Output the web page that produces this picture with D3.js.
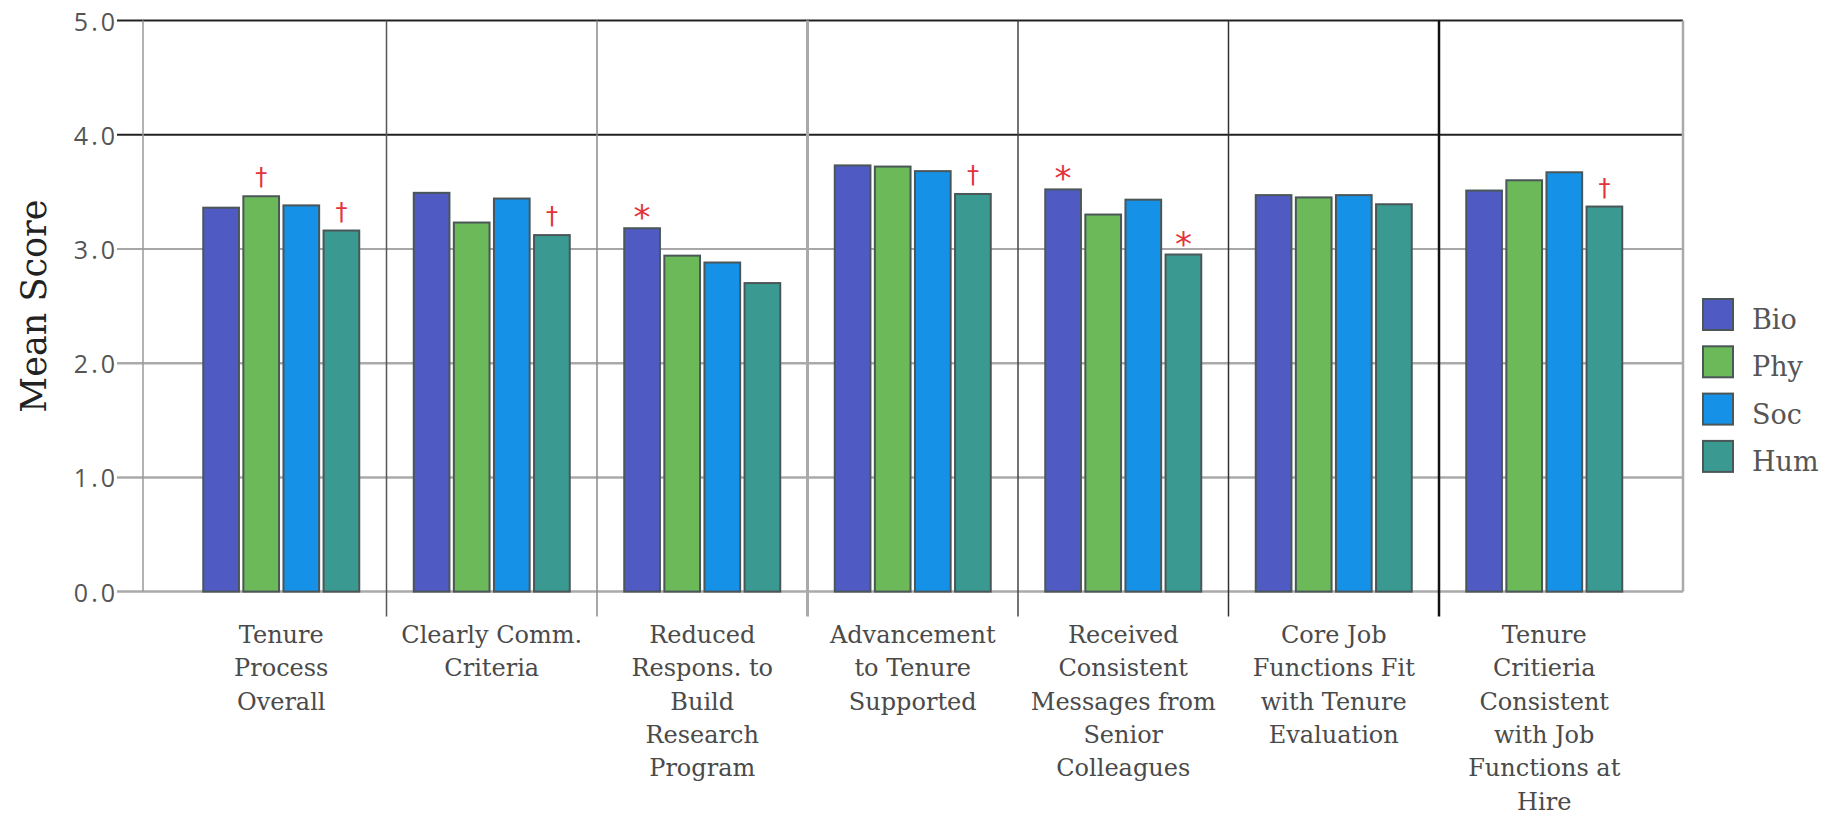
<!DOCTYPE html>
<html>
<head>
<meta charset="utf-8">
<script src="https://cdn.jsdelivr.net/npm/d3@7"></script>
<style>
  html, body { margin: 0; padding: 0; background: #fff; }
  svg { display: block; }
</style>
</head>
<body>
<svg id="chart" width="1837" height="815"></svg>
<script>
// Survey items (x categories), each split into lines for the axis labels
const categories = [
  "Tenure Process Overall",
  "Clearly Comm. Criteria",
  "Reduced Respons. to Build Research Program",
  "Advancement to Tenure Supported",
  "Received Consistent Messages from Senior Colleagues",
  "Core Job Functions Fit with Tenure Evaluation",
  "Tenure Critieria Consistent with Job Functions at Hire"
];
const categoryLines = [
  ["Tenure", "Process", "Overall"],
  ["Clearly Comm.", "Criteria"],
  ["Reduced", "Respons. to", "Build", "Research", "Program"],
  ["Advancement", "to Tenure", "Supported"],
  ["Received", "Consistent", "Messages from", "Senior", "Colleagues"],
  ["Core Job", "Functions Fit", "with Tenure", "Evaluation"],
  ["Tenure", "Critieria", "Consistent", "with Job", "Functions at", "Hire"]
];

// Disciplines and their mean scores per item
const series = ["Bio", "Phy", "Soc", "Hum"];
const bio = [3.37, 3.50, 3.19, 3.74, 3.53, 3.48, 3.52];
const phy = [3.47, 3.24, 2.95, 3.73, 3.31, 3.46, 3.61];
const soc = [3.39, 3.45, 2.89, 3.69, 3.44, 3.48, 3.68];
const hum = [3.17, 3.13, 2.71, 3.49, 2.96, 3.40, 3.38];

// Significance markers: [item index, discipline, symbol]
const sigMarks = [
  [0, "Phy", "\u2020"],
  [0, "Hum", "\u2020"],
  [1, "Hum", "\u2020"],
  [2, "Bio", "*"],
  [3, "Hum", "\u2020"],
  [4, "Bio", "*"],
  [4, "Hum", "*"],
  [6, "Hum", "\u2020"]
];

// Y axis ticks
const yTicks = [0, 1, 2, 3, 4, 5];

// ---- styling ----
const colors = { Bio: "#4f5bc3", Phy: "#6cb95a", Soc: "#1592e8", Hum: "#3a9a92" };
const gridStyle = {
  5: { stroke: "#222", width: 2 },
  4: { stroke: "#222", width: 2 },
  3: { stroke: "#8a8a8a", width: 1.6 },
  2: { stroke: "#aaa", width: 2.5 },
  1: { stroke: "#aaa", width: 2.5 },
  0: { stroke: "#aaa", width: 2.5 }
};
const dividerStyle = [
  { stroke: "#555", width: 1.5 },
  { stroke: "#8a8a8a", width: 1.5 },
  { stroke: "#aaa", width: 3 },
  { stroke: "#444", width: 1.5 },
  { stroke: "#333", width: 1.5 },
  { stroke: "#111", width: 2.5 }
];

const valuesBySeries = { Bio: bio, Phy: phy, Soc: soc, Hum: hum };

const svg = d3.select("#chart");

const frameLeft = 143, frameRight = 1683;
const y = d3.scaleLinear().domain([0, 5]).range([591.6, 20.5]);
const x = d3.scaleBand().domain(categories).range([176, 1649.5]).padding(0);
const groupWidth = 158;
const xInner = d3.scaleBand().domain(series).range([0, groupWidth]).paddingInner(0.06);
const groupCenter = c => x(c) + x.bandwidth() / 2;

// Horizontal gridlines with tick extensions
svg.append("g").selectAll("line")
  .data(yTicks)
  .join("line")
  .attr("x1", 117).attr("x2", frameRight)
  .attr("y1", d => y(d)).attr("y2", d => y(d))
  .attr("stroke", d => gridStyle[d].stroke)
  .attr("stroke-width", d => gridStyle[d].width);

// Tick labels
svg.append("g").selectAll("text")
  .data(yTicks)
  .join("text")
  .attr("x", 118)
  .attr("y", d => y(d) + 10)
  .attr("text-anchor", "end")
  .attr("font-family", "'Open Sans', sans-serif")
  .attr("font-size", 25)
  .attr("letter-spacing", 3)
  .attr("fill", "#555")
  .text(d3.format(".1f"));

// Outer frame sides
svg.append("line")
  .attr("x1", frameLeft).attr("x2", frameLeft)
  .attr("y1", y(5)).attr("y2", y(0))
  .attr("stroke", "#999").attr("stroke-width", 1.5);
svg.append("line")
  .attr("x1", frameRight).attr("x2", frameRight)
  .attr("y1", y(5)).attr("y2", y(0))
  .attr("stroke", "#aaa").attr("stroke-width", 2.5);

// Dividers between items, extending below the baseline
svg.append("g").selectAll("line")
  .data(categories.slice(1))
  .join("line")
  .attr("x1", d => x(d)).attr("x2", d => x(d))
  .attr("y1", y(5)).attr("y2", y(0) + 25)
  .attr("stroke", (d, i) => dividerStyle[i].stroke)
  .attr("stroke-width", (d, i) => dividerStyle[i].width);

// Bars
const groups = svg.append("g").selectAll("g")
  .data(categories)
  .join("g")
  .attr("transform", c => `translate(${groupCenter(c) - groupWidth / 2},0)`);

groups.selectAll("rect")
  .data((c, ci) => series.map(s => ({ s, v: valuesBySeries[s][ci] })))
  .join("rect")
  .attr("x", d => xInner(d.s) + 1)
  .attr("width", xInner.bandwidth() - 2)
  .attr("y", d => y(d.v) + 1)
  .attr("height", d => y(0) - y(d.v) - 1)
  .attr("fill", d => colors[d.s])
  .attr("stroke", "#4b5658")
  .attr("stroke-width", 2);

// Significance markers above bars
svg.append("g").selectAll("text")
  .data(sigMarks)
  .join("text")
  .attr("x", d => groupCenter(categories[d[0]]) - groupWidth / 2 + xInner(d[1]) + xInner.bandwidth() / 2)
  .attr("y", d => {
    const top = y(valuesBySeries[d[1]][d[0]]);
    return d[2] === "*" ? top + 2 : top - 10;
  })
  .attr("text-anchor", "middle")
  .attr("font-family", "'DejaVu Sans', sans-serif")
  .attr("font-size", d => d[2] === "*" ? 34 : 24)
  .attr("fill", "#e3343d")
  .text(d => d[2]);

// Item labels under the axis
const labels = svg.append("g").selectAll("text")
  .data(categories)
  .join("text")
  .attr("text-anchor", "middle")
  .attr("font-family", "'DejaVu Serif', serif")
  .attr("font-size", 24)
  .attr("fill", "#4a4a4a");
labels.selectAll("tspan")
  .data((c, i) => categoryLines[i].map(line => ({ c, line })))
  .join("tspan")
  .attr("x", d => groupCenter(d.c))
  .attr("y", (d, i) => 643 + i * 33.3)
  .text(d => d.line);

// Y axis title
svg.append("text")
  .attr("transform", `translate(46,${(y(0) + y(5)) / 2}) rotate(-90)`)
  .attr("text-anchor", "middle")
  .attr("font-family", "'DejaVu Serif', serif")
  .attr("font-size", 35)
  .attr("fill", "#222")
  .text("Mean Score");

// Legend
const legend = svg.append("g").attr("transform", "translate(1702,298)");
const items = legend.selectAll("g")
  .data(series)
  .join("g")
  .attr("transform", (d, i) => `translate(0,${i * 47.3})`);
items.append("rect")
  .attr("x", 1).attr("y", 1)
  .attr("width", 30).attr("height", 31)
  .attr("fill", d => colors[d])
  .attr("stroke", "#4b5658")
  .attr("stroke-width", 2);
items.append("text")
  .attr("x", 50)
  .attr("y", 31)
  .attr("font-family", "'DejaVu Serif', serif")
  .attr("font-size", 27)
  .attr("fill", "#555")
  .text(d => d);
</script>
</body>
</html>
